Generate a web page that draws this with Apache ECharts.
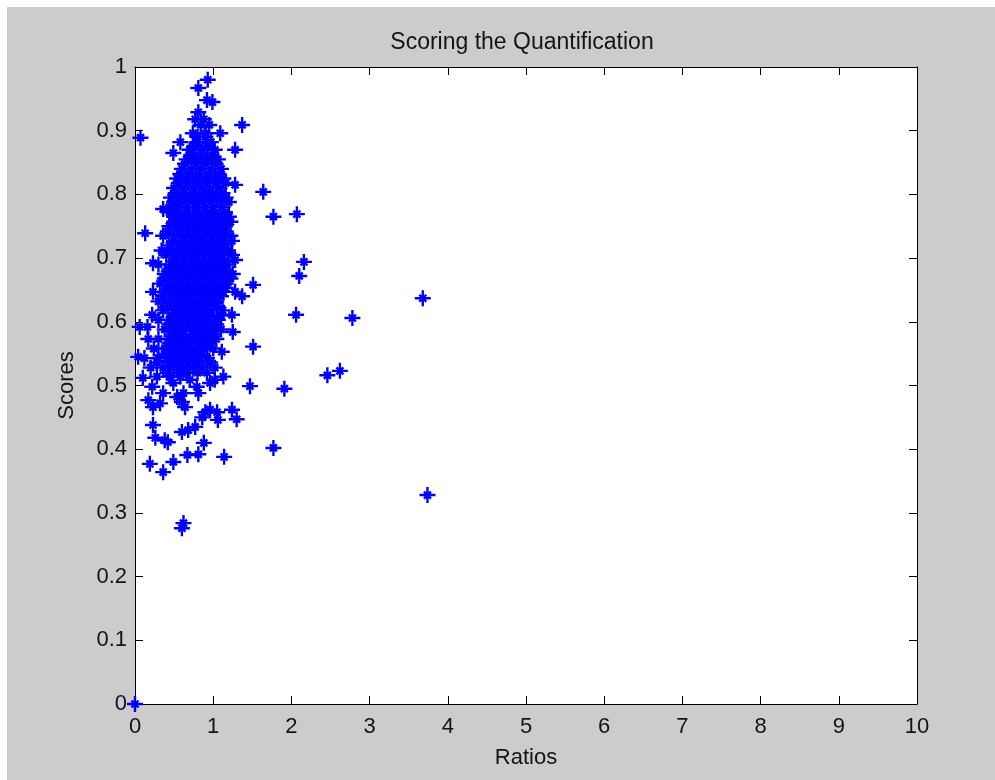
<!DOCTYPE html>
<html>
<head>
<meta charset="utf-8">
<script src="https://cdn.jsdelivr.net/npm/echarts@6/dist/echarts.min.js"></script>
<style>
  html, body { margin: 0; padding: 0; background: #ffffff; }
  #main { position: absolute; left: 7px; top: 7px; width: 988px; height: 773px; background: #cccccc; }
</style>
</head>
<body>
<div id="main"></div>
<script>
// each score row holds the ratios of the points read at that score
const scoreRows = [
  0.98, 0.967, 0.948, 0.945, 0.929, 0.918, 0.909, 0.896, 0.889, 0.882,
  0.87, 0.865, 0.855, 0.84, 0.825, 0.815, 0.81, 0.804, 0.795, 0.78,
  0.777, 0.769, 0.765, 0.75, 0.739, 0.735, 0.72, 0.705, 0.694, 0.692,
  0.69, 0.675, 0.672, 0.66, 0.658, 0.647, 0.64, 0.637, 0.632, 0.618,
  0.611, 0.606, 0.603, 0.592, 0.588, 0.584, 0.573, 0.561, 0.558, 0.553,
  0.545, 0.543, 0.528, 0.523, 0.516, 0.514, 0.512, 0.509, 0.504, 0.499,
  0.498, 0.495, 0.488, 0.482, 0.477, 0.474, 0.472, 0.466, 0.462, 0.458,
  0.45, 0.447, 0.446, 0.438, 0.435, 0.43, 0.427, 0.418, 0.414, 0.411,
  0.41, 0.402, 0.392, 0.391, 0.388, 0.38, 0.377, 0.364, 0.328, 0.284,
  0.276, 0
]
const ratioRows = [
  [0.93], [0.81], [0.92], [0.99], [0.81], [0.77, 0.88], [0.84, 0.95, 1.37], [0.74, 0.9, 1.09], [0.07], [0.58, 0.8, 0.97],
  [0.7, 0.86, 1.02, 1.28], [0.49], [0.66, 0.78, 0.92, 1.06], [0.6, 0.72, 0.84, 0.97, 1.1], [0.54, 0.66, 0.78, 0.9, 1.02, 1.13], [1.28], [0.5, 0.62, 0.74, 0.86, 0.96, 1.08], [1.64], [0.46, 0.58, 0.7, 0.82, 0.94, 1.05, 1.16], [0.44, 0.55, 0.67, 0.79, 0.9, 1.0, 1.12],
  [0.36], [2.07], [0.5, 0.62, 0.74, 0.86, 0.97, 1.08, 1.2, 1.77], [0.44, 0.56, 0.68, 0.8, 0.92, 1.04, 1.15], [0.13], [0.36, 0.5, 0.62, 0.74, 0.86, 0.98, 1.1, 1.22], [0.44, 0.57, 0.69, 0.81, 0.93, 1.05, 1.16], [0.4, 0.52, 0.64, 0.76, 0.88, 1.0, 1.12, 1.24], [2.16], [0.23],
  [0.3, 0.46, 0.58, 0.7, 0.82, 0.94, 1.06, 1.18], [0.38, 0.5, 0.62, 0.74, 0.86, 0.98, 1.1, 1.25], [2.1], [0.32, 0.44, 0.56, 0.68, 0.8, 0.92, 1.04, 1.16], [1.51], [0.23, 0.38, 0.5, 0.62, 0.74, 0.86, 0.98, 1.1, 1.28], [1.37], [3.68], [0.3, 0.44, 0.56, 0.68, 0.8, 0.92, 1.04], [0.36, 0.5, 0.62, 0.74, 0.86, 0.98, 1.12],
  [0.22, 1.24, 2.06], [2.78], [0.3, 0.44, 0.56, 0.68, 0.8, 0.92, 1.06], [0.06, 0.16], [0.38, 0.5, 0.62, 0.74, 0.86, 0.98, 1.1], [1.25], [0.17, 0.3, 0.44, 0.56, 0.7, 0.82, 0.94, 1.04], [1.51], [0.24, 0.38, 0.5, 0.62, 0.76, 0.88, 1.0], [1.11],
  [0.04], [0.12, 0.3, 0.44, 0.56, 0.68, 0.8, 0.92], [0.2, 0.36, 0.5, 0.62, 0.74, 0.86, 1.02], [2.62], [2.46], [0.28, 0.44, 0.58, 1.13], [0.1], [0.7, 1.02], [0.49, 0.96], [1.47],
  [0.22, 0.79], [1.91], [0.36, 0.62, 0.81], [0.54], [0.17], [0.6], [0.32], [0.23, 0.64], [0.96, 1.24], [0.9, 1.05],
  [0.86], [1.3], [1.06], [0.23], [0.77], [0.68], [0.6], [0.26], [0.38], [0.42],
  [0.88], [1.77], [0.81], [0.67], [1.14], [0.49], [0.19], [0.36], [3.74], [0.62],
  [0.6], [0]
]
// points packed in between the rows above, inside the dense core
const coreScoreRows = [
  0.89, 0.876, 0.862, 0.848, 0.832, 0.818, 0.802, 0.788, 0.772, 0.757,
  0.742, 0.727, 0.712, 0.697, 0.682, 0.668, 0.653, 0.64, 0.625, 0.61,
  0.596, 0.58, 0.566, 0.55, 0.536, 0.52
]
const coreRatioRows = [
  [0.8, 0.9], [0.76, 0.92], [0.72, 0.84, 0.98], [0.64, 0.78, 0.9, 1.03], [0.58, 0.7, 0.82, 0.95, 1.07],
  [0.56, 0.68, 0.8, 0.92, 1.04, 1.16], [0.52, 0.64, 0.76, 0.88, 1.0, 1.12], [0.5, 0.62, 0.74, 0.86, 0.97, 1.08, 1.2], [0.44, 0.56, 0.68, 0.8, 0.92, 1.03, 1.15], [0.5, 0.62, 0.74, 0.86, 0.98, 1.1, 1.22],
  [0.42, 0.56, 0.68, 0.8, 0.92, 1.04, 1.16], [0.5, 0.63, 0.75, 0.87, 0.99, 1.11, 1.24], [0.34, 0.46, 0.58, 0.7, 0.82, 0.94, 1.06, 1.19], [0.52, 0.64, 0.76, 0.88, 1.0, 1.12, 1.28], [0.44, 0.56, 0.68, 0.8, 0.92, 1.04, 1.16],
  [0.38, 0.5, 0.62, 0.74, 0.86, 0.98, 1.1, 1.22], [0.44, 0.56, 0.68, 0.8, 0.92, 1.04, 1.16], [0.36, 0.5, 0.62, 0.74, 0.86, 0.98, 1.1], [0.42, 0.56, 0.68, 0.8, 0.92, 1.05], [0.5, 0.62, 0.74, 0.86, 0.98, 1.1],
  [0.44, 0.56, 0.68, 0.8, 0.92, 1.04], [0.5, 0.62, 0.76, 0.88, 1.0], [0.44, 0.56, 0.68, 0.82, 0.94], [0.38, 0.5, 0.62, 0.74, 0.86], [0.28, 0.44, 0.56, 0.68, 0.8, 0.96],
  [0.42, 0.56, 0.66, 0.8, 0.92]
]
const xTicks = [0, 1, 2, 3, 4, 5, 6, 7, 8, 9, 10]
const yTicks = [0, 0.1, 0.2, 0.3, 0.4, 0.5, 0.6, 0.7, 0.8, 0.9, 1]

const points = []
scoreRows.forEach((s, i) => {
  ratioRows[i].forEach(r => points.push([r, s]))
})
coreScoreRows.forEach((s, i) => {
  coreRatioRows[i].forEach(r => points.push([r, s]))
})

const myChart = echarts.init(document.getElementById('main'))
const textColor = '#141414'
const font = 'Liberation Sans, Arial, sans-serif'
const tick = { show: true, inside: true, length: 8, lineStyle: { color: '#000', width: 1 } }
const line = { show: true, onZero: false, lineStyle: { color: '#000', width: 1 } }

const option = {
  animation: false,
  title: {
    text: 'Scoring the Quantification',
    left: 510,
    top: 19,
    textAlign: 'center',
    textStyle: { fontFamily: font, fontSize: 23, fontWeight: 'normal', color: textColor }
  },
  grid: {
    left: 128,
    right: 78,
    top: 60,
    bottom: 76,
    show: true,
    backgroundColor: '#ffffff',
    borderWidth: 0
  },
  xAxis: [
    {
      type: 'value',
      min: 0,
      max: 10,
      interval: 1,
      name: 'Ratios',
      nameLocation: 'middle',
      nameGap: 43,
      nameTextStyle: { fontFamily: font, fontSize: 22, color: textColor },
      axisLine: line,
      axisTick: tick,
      splitLine: { show: false },
      axisLabel: {
        margin: 12,
        fontFamily: font,
        fontSize: 22,
        color: textColor,
        formatter: v => xTicks.includes(v) ? String(v) : ''
      }
    },
    {
      type: 'value',
      position: 'top',
      min: 0,
      max: 10,
      interval: 1,
      axisLine: line,
      axisTick: tick,
      splitLine: { show: false },
      axisLabel: { show: false }
    }
  ],
  yAxis: [
    {
      type: 'value',
      min: 0,
      max: 1,
      interval: 0.1,
      name: 'Scores',
      nameLocation: 'middle',
      nameGap: 57,
      nameTextStyle: { fontFamily: font, fontSize: 22, color: textColor },
      axisLine: line,
      axisTick: tick,
      splitLine: { show: false },
      axisLabel: {
        margin: 8,
        fontFamily: font,
        fontSize: 22,
        color: textColor,
        formatter: v => {
          const t = yTicks.find(y => Math.abs(y - v) < 1e-6)
          return t === undefined ? '' : String(t)
        }
      }
    },
    {
      type: 'value',
      position: 'right',
      min: 0,
      max: 1,
      interval: 0.1,
      axisLine: line,
      axisTick: tick,
      splitLine: { show: false },
      axisLabel: { show: false }
    }
  ],
  series: [
    {
      type: 'scatter',
      xAxisIndex: 0,
      yAxisIndex: 0,
      clip: false,
      // matlab style asterisk: long plus, short diagonals
      symbol: 'path://M0,8L16,8M8,0L8,16M4.5,4.5L11.5,11.5M11.5,4.5L4.5,11.5',
      symbolSize: 16,
      itemStyle: { color: '#0000ff', borderColor: '#0000ff', borderWidth: 2.4, opacity: 1 },
      data: points
    }
  ]
}
myChart.setOption(option)
</script>
</body>
</html>
